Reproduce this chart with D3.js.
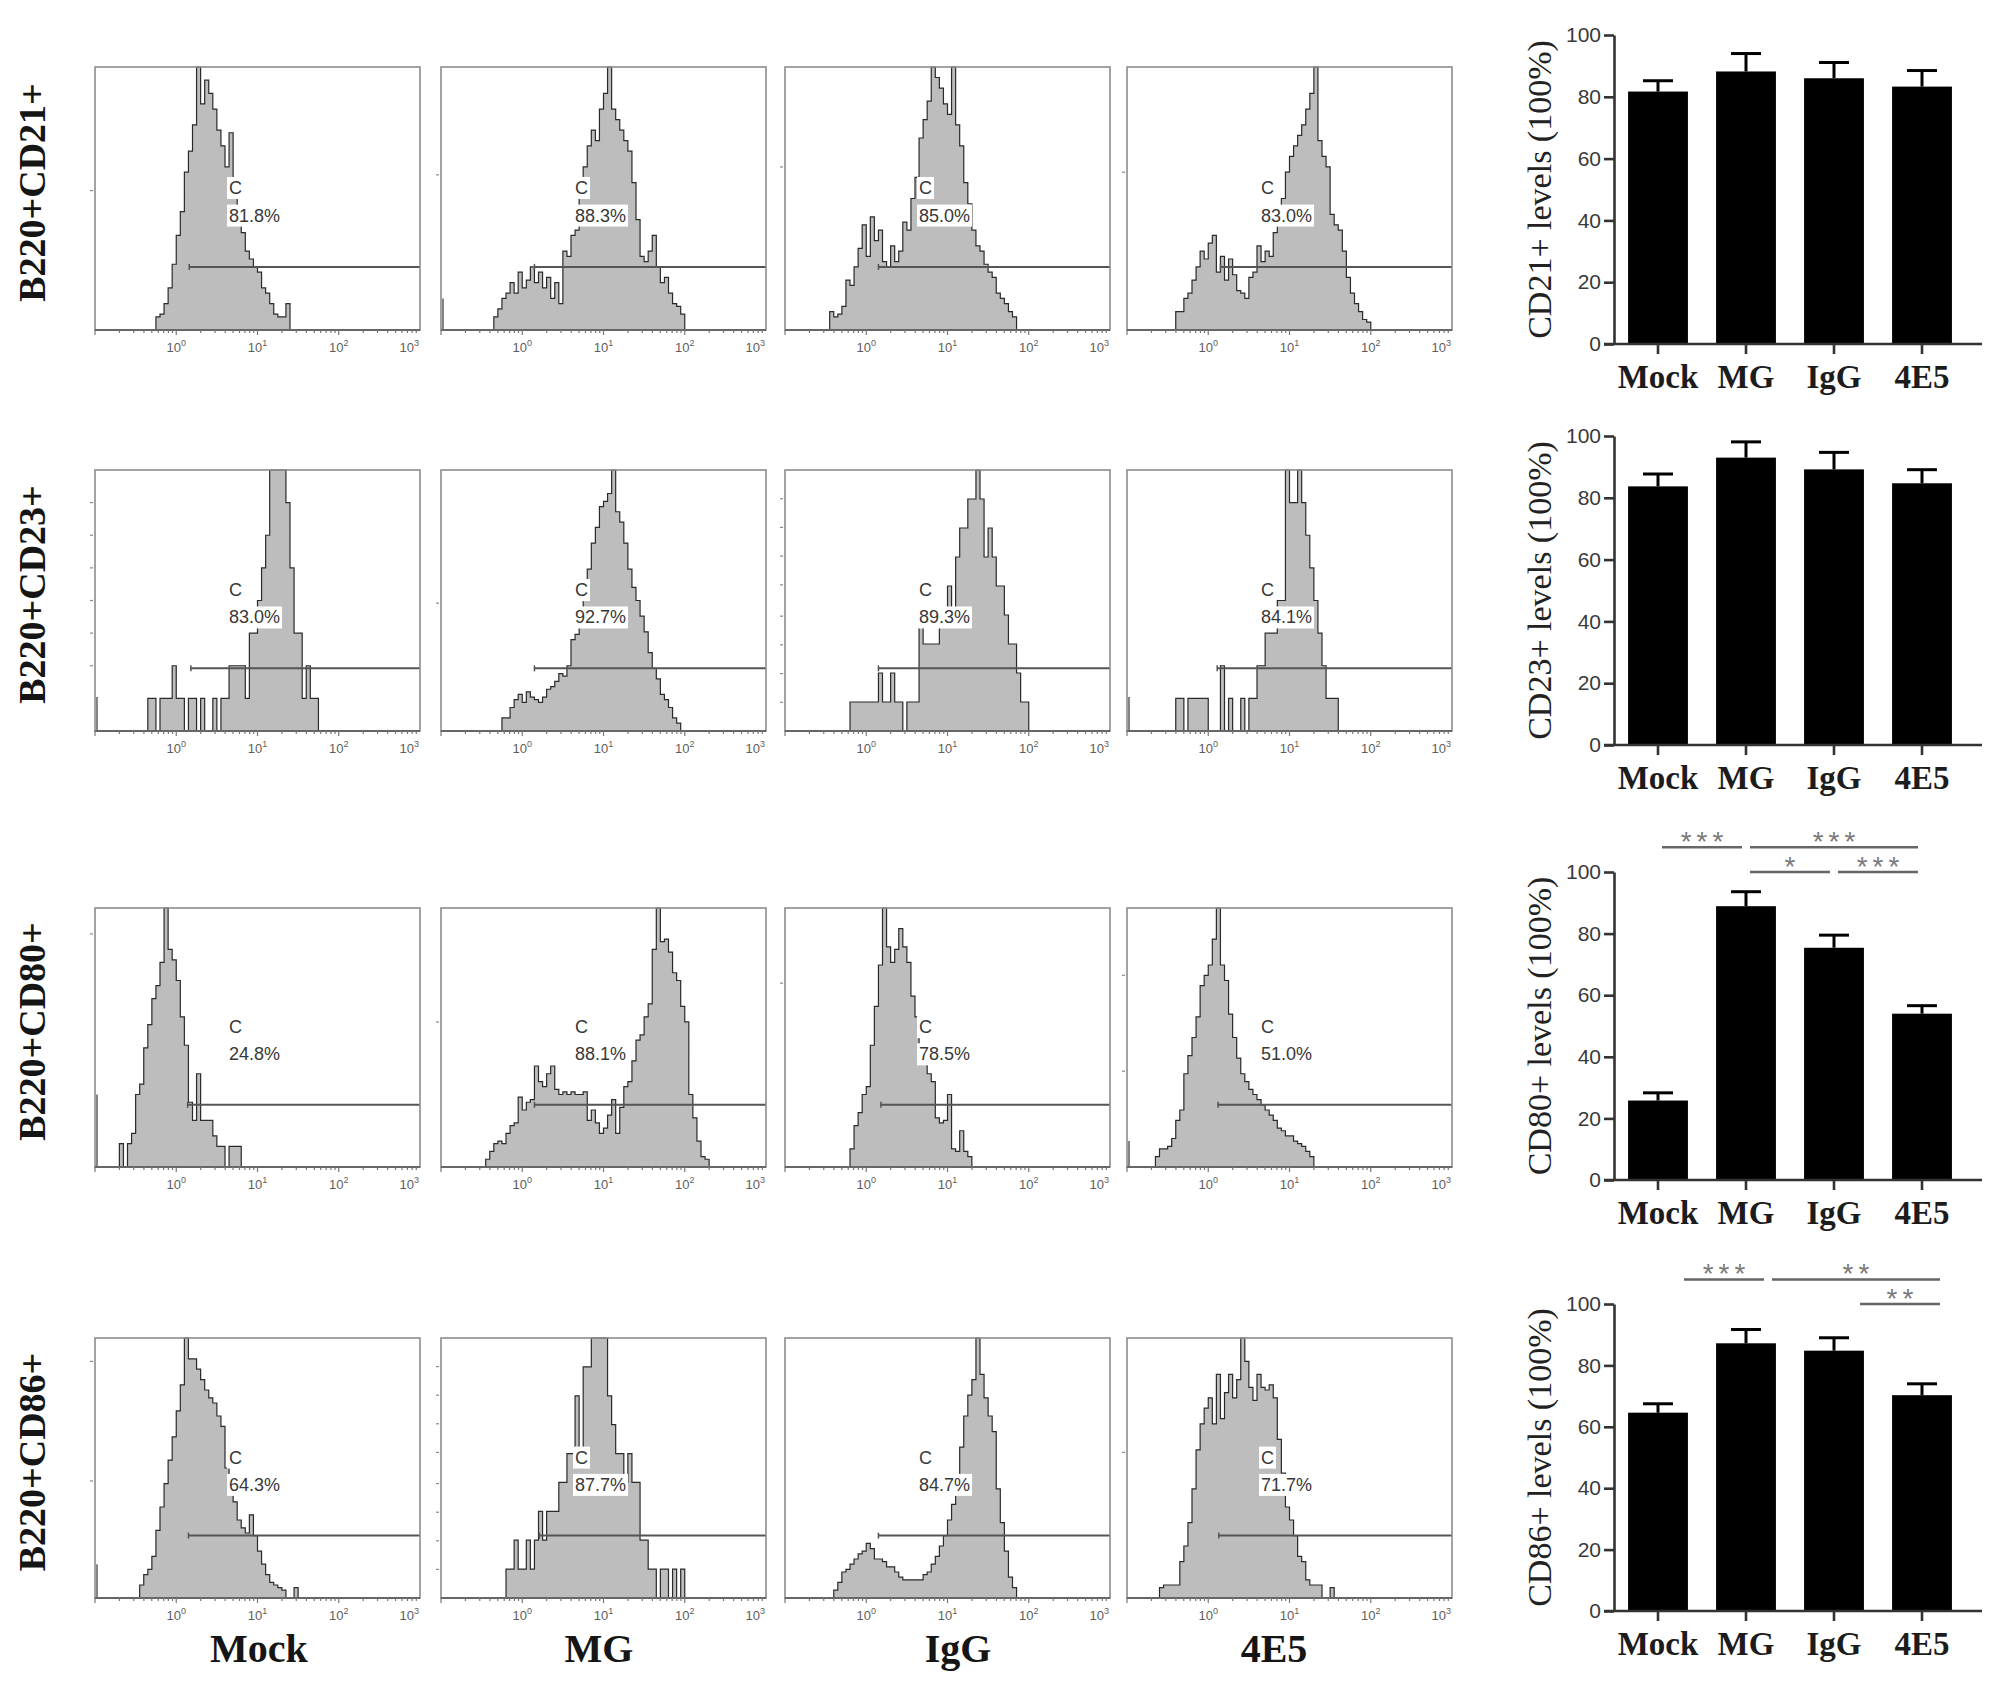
<!DOCTYPE html>
<html><head><meta charset="utf-8">
<script src="https://cdn.jsdelivr.net/npm/d3@7/dist/d3.min.js"></script>
<style>body{margin:0;background:#fff}svg{display:block}</style>
</head><body>
<svg id="c" width="2008" height="1692"></svg>
<script>
// ---------------- DATA ----------------
const groups = ["Mock", "MG", "IgG", "4E5"];
const rowLabels = ["B220+CD21+", "B220+CD23+", "B220+CD80+", "B220+CD86+"];
const barAxisLabels = ["CD21+ levels (100%)", "CD23+ levels (100%)", "CD80+ levels (100%)", "CD86+ levels (100%)"];
const yTickValues = [0, 20, 40, 60, 80, 100];

// bar means and error per marker, order Mock, MG, IgG, 4E5
const meanCD21 = [81.7, 88.2, 86.0, 83.3];
const errCD21  = [3.5, 5.8, 5.1, 5.2];
const meanCD23 = [83.7, 93.0, 89.2, 84.7];
const errCD23  = [4.0, 5.1, 5.5, 4.4];
const meanCD80 = [25.8, 88.9, 75.4, 54.0];
const errCD80  = [2.5, 4.7, 4.1, 2.6];
const meanCD86 = [64.6, 87.2, 84.8, 70.3];
const errCD86  = [2.9, 4.5, 4.2, 3.7];

// significance brackets: [from, to, label, level(value of bracket)]
const sigCD21 = [];
const sigCD23 = [];
const sigCD80 = [["Mock", "MG", "***", 108], ["MG", "4E5", "***", 108], ["MG", "IgG", "*", 100], ["IgG", "4E5", "***", 100]];
const sigCD86 = [["Mock", "MG", "***", 108], ["MG", "4E5", "**", 108], ["IgG", "4E5", "**", 100]];

// gated percentages shown on histograms
const pctCD21 = ["81.8%", "88.3%", "85.0%", "83.0%"];
const pctCD23 = ["83.0%", "92.7%", "89.3%", "84.1%"];
const pctCD80 = ["24.8%", "88.1%", "78.5%", "51.0%"];
const pctCD86 = ["64.3%", "87.7%", "84.7%", "71.7%"];

// gate start (log10 of fluorescence)
const gateCD21 = [0.16, 0.15, 0.15, 0.15];
const gateCD23 = [0.18, 0.15, 0.15, 0.11];
const gateCD80 = [0.14, 0.15, 0.18, 0.12];
const gateCD86 = [0.15, 0.21, 0.15, 0.13];

// histogram tick labels (decades)
const histDecades = [0, 1, 2, 3];

// histograms: first bin start (log10), bin width 0.05 decade, counts per bin
const histBin = 0.05;
const startCD21 = [-0.30, -0.40, -0.50, -0.45];
const histCD21 = [
  [0,5,6,10,16,25,36,45,60,68,78,100,86,95,90,84,76,70,62,75,52,46,37,30,27,24,22,16,14,10,6,5,5,10,0],
  [0,5,8,12,14,18,14,22,16,19,24,18,22,16,20,12,18,10,30,28,36,38,50,62,70,76,72,84,90,100,84,80,76,72,68,56,42,28,26,30,36,24,18,20,14,10,9,6,0],
  [0,7,5,6,9,19,17,24,31,40,28,43,34,38,26,24,32,26,30,41,38,50,58,73,80,87,100,96,92,86,82,100,78,70,56,48,38,32,30,25,22,20,14,12,10,7,5,0],
  [0,7,7,12,14,19,24,30,27,33,36,22,28,19,27,21,15,14,12,20,22,32,26,30,28,37,45,50,60,66,70,74,78,84,90,100,72,66,62,44,40,38,30,20,14,10,7,4,3,0]
];
const startCD23 = [-0.40, -0.25, -0.25, -0.40];
const histCD23 = [
  [0,1,1,0,1,1,1,2,1,1,0,1,1,0,1,0,0,1,0,1,1,2,2,2,2,1,3,3,4,5,6,8,8,8,8,7,5,3,3,1,2,1,1,0],
  [5,5,9,12,14,11,15,13,12,11,13,16,17,19,22,21,25,35,37,45,52,62,72,78,86,88,91,100,84,80,72,62,55,50,44,38,30,24,20,14,12,9,5,3,0],
  [0,1,1,1,1,1,1,1,2,1,1,2,1,1,0,1,1,1,4,3,3,3,3,4,4,5,4,6,7,7,8,8,9,8,6,7,6,5,5,4,3,3,2,1,1,0],
  [1,1,0,1,1,1,1,1,0,0,0,2,0,1,0,0,1,0,1,1,2,2,3,3,3,4,4,8,7,7,8,7,6,5,4,3,2,1,1,1,0]
];
const startCD80 = [-0.75, -0.50, -0.25, -0.65];
const histCD80 = [
  [0,9,0,9,13,28,32,46,55,65,70,79,100,84,80,72,58,47,25,18,36,18,18,18,12,8,8,0,8,8,8,0],
  [0,3,6,9,10,9,13,16,17,27,22,25,26,39,33,31,36,39,30,28,29,28,29,28,28,29,18,22,17,13,15,20,26,13,23,31,33,41,49,51,58,63,84,100,87,88,83,75,72,62,56,28,19,10,4,3,0],
  [0,7,16,21,28,31,47,62,78,100,85,79,84,92,85,79,66,58,41,40,36,33,19,17,18,28,7,6,14,6,4,0],
  [4,7,7,8,11,18,22,36,43,50,58,70,74,78,88,100,78,72,59,50,42,36,33,30,28,26,24,22,20,18,15,14,12,12,10,9,8,6,4,0]
];
const startCD86 = [-0.50, -0.20, -0.40, -0.60];
const histCD86 = [
  [0,5,9,11,16,26,35,44,53,62,72,82,100,92,92,88,84,80,77,75,70,66,50,40,37,30,27,25,32,24,18,13,9,6,5,4,3,0,0,4,0],
  [1,1,2,1,1,2,1,2,3,2,3,3,3,4,4,5,5,7,5,8,8,9,9,9,9,7,6,5,5,4,5,4,4,2,2,1,1,0,1,1,0,1,0,1,0],
  [3,6,10,11,13,15,17,18,21,19,15,15,14,12,12,10,8,7,7,7,7,7,9,10,13,16,20,24,30,36,44,58,70,78,84,100,86,77,70,64,42,29,18,8,4,0],
  [4,5,5,5,5,14,20,29,42,57,67,73,77,67,86,69,79,86,77,84,100,91,81,76,86,81,80,82,77,61,48,35,30,24,16,14,7,5,5,5,0,0,4,0]
];
// events piled at the left edge of the scale (fraction of panel max)
const edgeCD21 = [0, 0.12, 0, 0];
const edgeCD23 = [0.13, 0, 0, 0.13];
const edgeCD80 = [0.28, 0, 0, 0.10];
const edgeCD86 = [0.13, 0, 0, 0];
// count-axis tick marks (fraction of panel max)
const countTicksCD21 = [[0.53], [0.59], [0.62], [0.60]];
const countTicksCD23 = [[0.25,0.375,0.5,0.625,0.75,0.875], [0.49], [0.11,0.22,0.33,0.44,0.56,0.67,0.78,0.89], []];
const countTicksCD80 = [[0.9], [0.56], [0.71], [0.74,0.37]];
const countTicksCD86 = [[0.91,0.45], [0.11,0.22,0.33,0.44,0.56,0.67,0.78,0.89], [], [0.56]];

// ---------------- ASSEMBLY ----------------
const rows = [
  {mean: meanCD21, err: errCD21, sig: sigCD21, pct: pctCD21, gate: gateCD21, start: startCD21, hist: histCD21, edge: edgeCD21, cticks: countTicksCD21},
  {mean: meanCD23, err: errCD23, sig: sigCD23, pct: pctCD23, gate: gateCD23, start: startCD23, hist: histCD23, edge: edgeCD23, cticks: countTicksCD23},
  {mean: meanCD80, err: errCD80, sig: sigCD80, pct: pctCD80, gate: gateCD80, start: startCD80, hist: histCD80, edge: edgeCD80, cticks: countTicksCD80},
  {mean: meanCD86, err: errCD86, sig: sigCD86, pct: pctCD86, gate: gateCD86, start: startCD86, hist: histCD86, edge: edgeCD86, cticks: countTicksCD86}
];

// ---------------- LAYOUT ----------------
const svg = d3.select("#c");
svg.append("rect").attr("width", 2008).attr("height", 1692).attr("fill", "#fff");
const colX = [95, 441, 785, 1127], panelW = 325;
const rowTop = [67, 470, 908, 1338], rowH = [263, 261, 259, 260];
const groupLabelX = [259, 599, 958, 1274];
const barTop = [35, 436, 872, 1304], barBot = [344, 745, 1180, 1611];
const barAxisX = 1614, barAxisEnd = 1982, barLabelX = 1539;
const sigShift = [0, 0, 0, 22];

const sans = "'Liberation Sans', Arial, sans-serif";
const serif = "'Liberation Serif', 'Times New Roman', serif";

function labelWithBg(g, x, y, txt, size) {
  const t = g.append("text").attr("x", x).attr("y", y).attr("font-family", sans)
    .attr("font-size", size).attr("fill", "#383838").attr("dominant-baseline", "central").text(txt);
  const b = t.node().getBBox();
  g.insert("rect", () => t.node()).attr("x", b.x - 2).attr("y", b.y - 1)
    .attr("width", b.width + 4).attr("height", b.height + 2).attr("fill", "#fff");
}

rows.forEach((row, r) => {
  const y0 = rowTop[r], h = rowH[r], yb = y0 + h;
  // row label
  svg.append("text").attr("transform", `translate(32,${y0 + h / 2 - 6}) rotate(-90)`)
    .attr("text-anchor", "middle").attr("dominant-baseline", "central")
    .attr("font-family", serif).attr("font-weight", "bold").attr("font-size", 38).attr("fill", "#151515")
    .text(rowLabels[r]);

  for (let c = 0; c < 4; c++) {
    const x0 = colX[c];
    const g = svg.append("g");
    const counts = row.hist[c], start = row.start[c];
    const xs = d3.scaleLog().domain([0.1, 1000]).range([x0, x0 + panelW]);
    const ys = d3.scaleLinear().domain([0, d3.max(counts)]).range([yb, y0]);
    const pts = [[Math.pow(10, start), 0]].concat(counts.map((v, i) => [Math.pow(10, start + i * histBin), v]));
    pts.push([Math.pow(10, start + counts.length * histBin), 0]);
    const area = d3.area().x(d => xs(d[0])).y0(yb).y1(d => ys(d[1])).curve(d3.curveStepAfter);
    const line = d3.line().x(d => xs(d[0])).y(d => ys(d[1])).curve(d3.curveStepAfter);
    g.append("path").attr("d", area(pts)).attr("fill", "#bdbdbd");
    g.append("path").attr("d", line(pts)).attr("fill", "none").attr("stroke", "#2a2a2a").attr("stroke-width", 1.2);
    if (row.edge[c] > 0) {
      g.append("line").attr("x1", x0 + 2).attr("x2", x0 + 2).attr("y1", yb)
        .attr("y2", ys(row.edge[c] * d3.max(counts))).attr("stroke", "#333").attr("stroke-width", 1.2);
    }
    // gate
    const gx = xs(Math.pow(10, row.gate[c])), gy = y0 + 0.76 * h;
    g.append("line").attr("x1", gx).attr("x2", x0 + panelW).attr("y1", gy).attr("y2", gy)
      .attr("stroke", "#555").attr("stroke-width", 2);
    g.append("line").attr("x1", gx).attr("x2", gx).attr("y1", gy - 3).attr("y2", gy + 3)
      .attr("stroke", "#555").attr("stroke-width", 1.5);
    // labels
    labelWithBg(g, x0 + 134, y0 + 0.46 * h, "C", 18);
    labelWithBg(g, x0 + 134, y0 + 0.565 * h, row.pct[c], 18);
    // frame
    g.append("rect").attr("x", x0).attr("y", y0).attr("width", panelW).attr("height", h)
      .attr("fill", "none").attr("stroke", "#8c8c8c").attr("stroke-width", 1.6);
    g.append("line").attr("x1", x0).attr("x2", x0 + panelW).attr("y1", yb).attr("y2", yb)
      .attr("stroke", "#666").attr("stroke-width", 1.8);
    // log ticks
    for (let k = -1; k < 3; k++) {
      for (let m = 1; m <= 9; m++) {
        const v = m * Math.pow(10, k);
        g.append("line").attr("x1", xs(v)).attr("x2", xs(v)).attr("y1", yb).attr("y2", yb + (m === 1 ? 5 : 3))
          .attr("stroke", "#777").attr("stroke-width", 1.2);
      }
    }
    histDecades.forEach(k => {
      const last = k === 3;
      const t = g.append("text").attr("x", last ? x0 + panelW - 1 : xs(Math.pow(10, k)))
        .attr("y", yb + 22).attr("text-anchor", last ? "end" : "middle")
        .attr("font-family", sans).attr("font-size", 13).attr("fill", "#5e5e5e");
      t.append("tspan").text("10");
      t.append("tspan").attr("dy", -6).attr("font-size", 9).text(k);
    });
    // count ticks on left
    row.cticks[c].forEach(f => {
      const ty = yb - f * h;
      g.append("line").attr("x1", x0 - 5).attr("x2", x0 - 2).attr("y1", ty).attr("y2", ty)
        .attr("stroke", "#888").attr("stroke-width", 1.2);
    });
  }

  // ---------- bar chart ----------
  const bg = svg.append("g");
  const yS = d3.scaleLinear().domain([0, 100]).range([barBot[r], barTop[r]]);
  const xB = d3.scaleBand().domain(groups).range([barAxisX, 1966]).paddingInner(0.32).paddingOuter(0.16);
  const cx = gname => xB(gname) + xB.bandwidth() / 2;

  bg.selectAll("rect.bar").data(groups).enter().append("rect")
    .attr("x", d => xB(d)).attr("width", xB.bandwidth())
    .attr("y", (d, i) => yS(row.mean[i])).attr("height", (d, i) => yS(0) - yS(row.mean[i]))
    .attr("fill", "#000");
  groups.forEach((gname, i) => {
    const x = cx(gname);
    bg.append("line").attr("x1", x).attr("x2", x).attr("y1", yS(row.mean[i])).attr("y2", yS(row.mean[i] + row.err[i]))
      .attr("stroke", "#000").attr("stroke-width", 3);
    bg.append("line").attr("x1", x - 15).attr("x2", x + 15).attr("y1", yS(row.mean[i] + row.err[i])).attr("y2", yS(row.mean[i] + row.err[i]))
      .attr("stroke", "#000").attr("stroke-width", 3);
  });

  const ax = bg.append("g").attr("transform", `translate(${barAxisX},0)`)
    .call(d3.axisLeft(yS).tickValues(yTickValues).tickSize(10).tickSizeOuter(0).tickPadding(3));
  ax.select(".domain").attr("stroke", "#333").attr("stroke-width", 2.6);
  ax.selectAll(".tick line").attr("stroke", "#333").attr("stroke-width", 2.6);
  ax.selectAll(".tick text").attr("font-family", sans).attr("font-size", 21).attr("fill", "#3a3a3a");

  const axb = bg.append("g").attr("transform", `translate(0,${barBot[r]})`)
    .call(d3.axisBottom(xB).tickSize(10).tickSizeOuter(0).tickPadding(8));
  axb.select(".domain").remove();
  axb.selectAll(".tick line").attr("stroke", "#333").attr("stroke-width", 2.6);
  axb.selectAll(".tick text").attr("font-family", serif).attr("font-weight", "bold")
    .attr("font-size", 33).attr("fill", "#1c1c1c").attr("dy", "0.8em");
  bg.append("line").attr("x1", barAxisX - 10).attr("x2", barAxisEnd).attr("y1", barBot[r]).attr("y2", barBot[r])
    .attr("stroke", "#333").attr("stroke-width", 2.6);

  bg.append("text").attr("transform", `translate(${barLabelX},${(barTop[r] + barBot[r]) / 2}) rotate(-90)`)
    .attr("text-anchor", "middle").attr("dominant-baseline", "central")
    .attr("font-family", serif).attr("font-size", 34).attr("fill", "#222").text(barAxisLabels[r]);

  row.sig.forEach(s => {
    const x1 = cx(s[0]) + 4 + sigShift[r], x2 = cx(s[1]) - 4 + sigShift[r], ly = yS(s[3]);
    bg.append("line").attr("x1", x1).attr("x2", x2).attr("y1", ly).attr("y2", ly)
      .attr("stroke", "#666").attr("stroke-width", 2.5);
    bg.append("text").attr("x", (x1 + x2) / 2 + 2.5).attr("y", ly + 4).attr("text-anchor", "middle")
      .attr("font-family", sans).attr("font-size", 28).attr("letter-spacing", 5).attr("fill", "#7a7a7a").text(s[2]);
  });
});

// group labels under histogram columns
groups.forEach((gname, i) => {
  svg.append("text").attr("x", groupLabelX[i]).attr("y", 1662).attr("text-anchor", "middle")
    .attr("font-family", serif).attr("font-weight", "bold").attr("font-size", 40).attr("fill", "#151515").text(gname);
});
</script>
</body></html>
